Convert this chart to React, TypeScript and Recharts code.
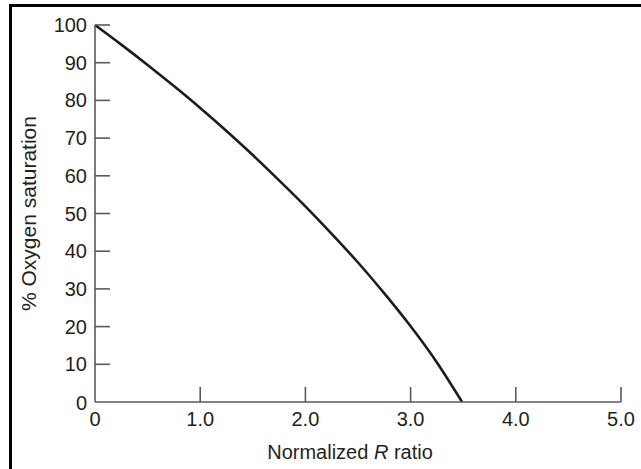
import React from 'react';
import { LineChart, Line, XAxis, YAxis, Label } from 'recharts';

// normalized R ratio (x) vs % oxygen saturation (y)
const rRatio = [0, 0.25, 0.5, 0.75, 1.0, 1.25, 1.5, 1.75, 2.0, 2.25, 2.5, 2.75, 3.0, 3.25, 3.49];
const saturation = [100, 94.8, 89.4, 83.8, 78.0, 71.9, 65.5, 58.8, 51.9, 44.6, 37.0, 28.8, 20.1, 10.5, 0];

const xTicks = [0, 1, 2, 3, 4, 5];
const xTickLabels = ['0', '1.0', '2.0', '3.0', '4.0', '5.0'];
const yTicks = [0, 10, 20, 30, 40, 50, 60, 70, 80, 90, 100];

const data = rRatio.map((r, i) => ({ r, sat: saturation[i] }));

const FONT = '"Liberation Sans", Arial, sans-serif';
const AXIS = '#5a5a5a';
const TEXT = '#231f20';
const TICK_LEN = 15;

// ticks point inward, so draw line + label ourselves
const XTick = (props: any) => {
  const { x, y, payload } = props;
  const idx = xTicks.indexOf(payload.value);
  return (
    <g>
      {payload.value !== 0 && (
        <line x1={x} x2={x} y1={y} y2={y - TICK_LEN} stroke={AXIS} strokeWidth={1.6} />
      )}
      <text x={x} y={y + 24} textAnchor="middle" fill={TEXT} fontSize={20} fontFamily={FONT}>
        {xTickLabels[idx]}
      </text>
    </g>
  );
};

const YTick = (props: any) => {
  const { x, y, payload } = props;
  return (
    <g>
      {payload.value !== 0 && (
        <line x1={x} x2={x + TICK_LEN} y1={y} y2={y} stroke={AXIS} strokeWidth={1.6} />
      )}
      <text x={x - 8} y={payload.value === 0 ? y + 1 : y} dy="0.35em" textAnchor="end" fill={TEXT} fontSize={20} fontFamily={FONT}>
        {payload.value}
      </text>
    </g>
  );
};

export default function App() {
  return (
    <div style={{ position: 'absolute', left: 0, top: 0, width: 641, height: 469, background: '#fff', overflow: 'hidden' }}>
      {/* frame edge, only top and left survive in the crop */}
      <div
        style={{
          position: 'absolute',
          left: 9,
          top: 4,
          width: 660,
          height: 490,
          borderTop: '3px solid #000',
          borderLeft: '3px solid #000',
          boxSizing: 'border-box',
        }}
      />
      <LineChart
        width={641}
        height={469}
        data={data}
        margin={{ top: 25, right: 20, bottom: 7, left: 35 }}
        style={{ position: 'absolute', left: 0, top: 0 }}
      >
        <XAxis
          dataKey="r"
          type="number"
          domain={[0, 5]}
          ticks={xTicks}
          interval={0}
          height={60}
          tickSize={0}
          tickMargin={0}
          tickLine={false}
          axisLine={{ stroke: AXIS, strokeWidth: 1.6 }}
          tick={<XTick />}
        >
          <Label
            content={({ viewBox }: any) => (
              <text
                x={viewBox.x + viewBox.width / 2 - 8}
                y={viewBox.y + 57}
                textAnchor="middle"
                fill={TEXT}
                fontSize={20}
                fontFamily={FONT}
              >
                Normalized <tspan fontStyle="italic">R</tspan> ratio
              </text>
            )}
          />
        </XAxis>
        <YAxis
          type="number"
          domain={[0, 100]}
          ticks={yTicks}
          interval={0}
          width={60}
          tickSize={0}
          tickMargin={0}
          tickLine={false}
          axisLine={{ stroke: AXIS, strokeWidth: 1.6 }}
          tick={<YTick />}
        >
          <Label
            content={({ viewBox }: any) => {
              const cx = 28;
              const cy = viewBox.y + viewBox.height / 2;
              return (
                <text
                  x={cx}
                  y={cy}
                  transform={`rotate(-90, ${cx}, ${cy})`}
                  textAnchor="middle"
                  dominantBaseline="central"
                  fill={TEXT}
                  fontSize={21}
                  fontFamily={FONT}
                >
                  % Oxygen saturation
                </text>
              );
            }}
          />
        </YAxis>
        <Line
          type="natural"
          dataKey="sat"
          stroke="#1c1c1c"
          strokeWidth={2.6}
          dot={false}
          isAnimationActive={false}
        />
      </LineChart>
    </div>
  );
}
